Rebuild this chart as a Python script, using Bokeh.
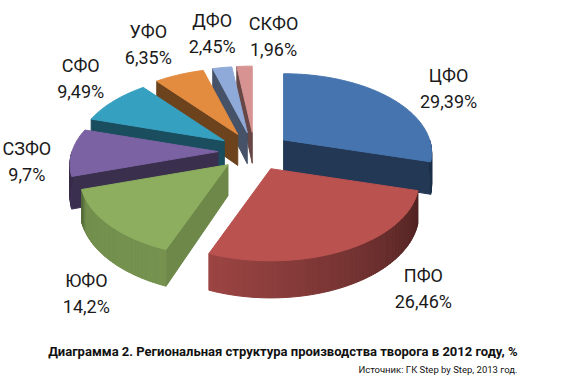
import numpy as np
from bokeh.plotting import figure
from bokeh.models import Range1d, Label
from bokeh.embed import file_html
from bokeh.resources import INLINE

# ---------------- data ----------------
regions = ["ЦФО", "ПФО", "ЮФО", "СЗФО", "СФО", "УФО", "ДФО", "СКФО"]
shares = [29.39, 26.46, 14.2, 9.7, 9.49, 6.35, 2.45, 1.96]
share_labels = ["29,39%", "26,46%", "14,2%", "9,7%", "9,49%", "6,35%", "2,45%", "1,96%"]
top_colors = ["#4674AE", "#BA5250", "#8CAE5E", "#7B62A3", "#36A0C1", "#E38B3E", "#8FAAD8", "#D69391"]
title_text = "Диаграмма 2. Региональная структура производства творога в 2012 году, %"
source_text = "Источник: ГК Step by Step, 2013 год."

# ---------------- layout / style ----------------
CX, CY = 253, 150          # pie centre (picture pixels)
RX, RY = 146, 77           # ellipse radii
DEPTH = 31                 # thickness
PERSP = 0.164              # perspective strength
EXPLODE = 0.25             # explosion (fraction of radius)
label_nudge = [(59, -9), (76, 39), (-22, 69), (-45, 9), (-33, -23), (-31, -30), (-10, -34), (29, -30)]
side_angles = [90, 106, 201, 245, 256, 270]
side_factors = [0.40, 0.42, 0.84, 0.82, 0.47, 0.45]


def hex2rgb(h):
    h = h.lstrip("#")
    return [int(h[i:i + 2], 16) for i in (0, 2, 4)]


def shade(h, f):
    r, g, b = [max(0, min(255, int(round(c * f)))) for c in hex2rgb(h)]
    return "#%02x%02x%02x" % (r, g, b)


def proj(ax, ay, th, h=0.0, r=1.0):
    t = np.radians(th)
    u, w = r * np.sin(t), -r * np.cos(t)
    pp = 1.0 / (1.0 - PERSP * w)
    return ax + RX * u * pp, ay + RY * w * pp + DEPTH * h * pp


total = sum(shares)
bounds = np.concatenate([[0.0], np.cumsum(shares) / total * 360.0])

slices = []
for i in range(len(shares)):
    t1, t2 = bounds[i], bounds[i + 1]
    mid = (t1 + t2) / 2
    m = np.radians(mid)
    ax = CX + EXPLODE * RX * np.sin(m)
    ay = CY - EXPLODE * RY * np.cos(m)
    slices.append(dict(i=i, t1=t1, t2=t2, mid=mid, ax=ax, ay=ay, w=-np.cos(m)))

xs, ys, fills = [], [], []

for s in sorted(slices, key=lambda d: d["w"]):
    i, t1, t2, ax, ay = s["i"], s["t1"], s["t2"], s["ax"], s["ay"]
    col = top_colors[i]
    # radial cut faces
    for th, normal in ((t1, t1 - 90), (t2, t2 + 90)):
        nn = normal % 360
        if 90 < nn < 270:
            f = 0.78 if nn < 150 else 0.48
            x1, y1 = proj(ax, ay, th)
            x2, y2 = proj(ax, ay, th, 1)
            xs.append([ax, x1, x2, ax])
            ys.append([ay, y1, y2, ay + DEPTH])
            fills.append(shade(col, f))
    # outer curved side (visible for 90..270)
    a1, a2 = max(t1, 90), min(t2, 270)
    if a2 > a1:
        n = max(2, int(np.ceil(a2 - a1)))
        ang = np.linspace(a1, a2, n + 1)
        for k in range(n):
            b1, b2 = ang[k], ang[k + 1]
            p1 = proj(ax, ay, b1)
            p2 = proj(ax, ay, b2)
            q2 = proj(ax, ay, b2, 1)
            q1 = proj(ax, ay, b1, 1)
            xs.append([p1[0], p2[0], q2[0], q1[0]])
            ys.append([p1[1], p2[1], q2[1], q1[1]])
            fills.append(shade(col, float(np.interp((b1 + b2) / 2, side_angles, side_factors))))
    # top face
    ang = np.linspace(t1, t2, max(3, int(np.ceil(t2 - t1)) + 1))
    px, py = proj(ax, ay, ang)
    xs.append([ax] + list(px))
    ys.append([ay] + list(py))
    fills.append(col)

p = figure(width=565, height=379, output_backend="svg", toolbar_location=None,
           x_range=Range1d(-1, 564), y_range=Range1d(378, -1), min_border=0)
p.axis.visible = False
p.grid.visible = False
p.outline_line_color = None
p.background_fill_color = "white"

p.patches(xs, ys, fill_color=fills, line_color=fills, line_width=1.0)

# data labels
for s in slices:
    i = s["i"]
    rx_, ry_ = proj(s["ax"], s["ay"], s["mid"])
    lx, ly = rx_ + label_nudge[i][0], ry_ + label_nudge[i][1]
    for txt, dy in ((regions[i], -13), (share_labels[i], 13)):
        p.add_layout(Label(x=lx, y=ly + dy, text=txt, text_align="center", text_baseline="middle",
                           text_font="Roboto", text_font_size="18px", text_color="#1a1a1a"))

p.add_layout(Label(x=516, y=350, text=title_text, text_align="right", text_baseline="middle",
                   text_font="Roboto", text_font_style="bold", text_font_size="13px", text_color="#111111"))
p.add_layout(Label(x=516, y=368, text=source_text, text_align="right", text_baseline="middle",
                   text_font="Roboto", text_font_size="9.5px", text_color="#111111"))

open("out.html", "w").write(file_html(p, INLINE))
